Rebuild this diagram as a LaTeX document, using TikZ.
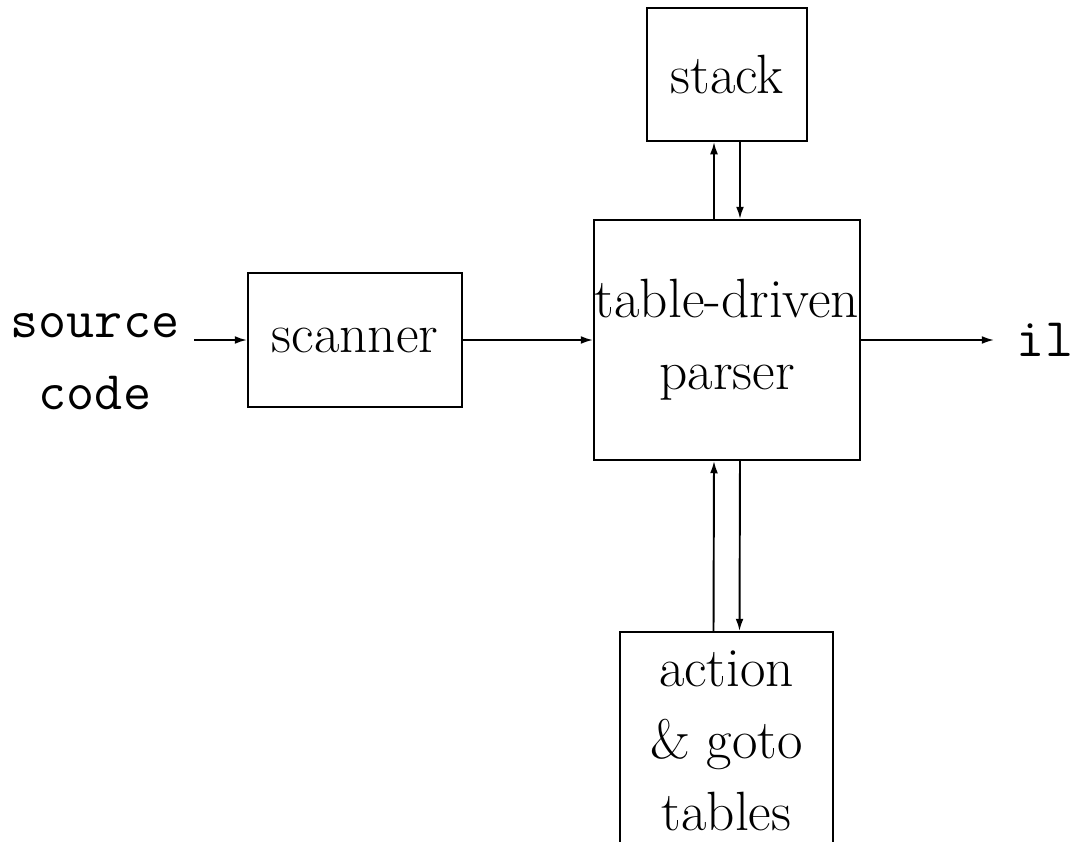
\documentclass[tikz,border=0pt]{standalone}
\usepackage{tikz}
\usetikzlibrary{arrows.meta}

\tikzset{
    block/.style={draw, line width=1.1pt, align=center, inner sep=0pt},
    flow/.style={->, line width=1.1pt}
}

\begin{document}
\begin{tikzpicture}[x=0.02cm, y=-0.02cm, >={Latex[length=7pt,width=4.5pt]},
    every node/.style={font=\fontsize{31.5}{41}\selectfont}]
    \useasboundingbox (0,0) rectangle (1076,842);
    \node[block, minimum width=3.2cm, minimum height=2.66cm] (stack) at (727,74.5) {stack};
    \node[block, minimum width=5.32cm, minimum height=4.8cm] (parser) at (727,340) {table-driven\\parser};
    \node[block, minimum width=4.28cm, minimum height=2.68cm] (scanner) at (355,340) {scanner};
    \node[block, minimum width=4.26cm, minimum height=4.36cm] (tables) at (726.5,741) {action\\\& goto\\tables};
    \node[align=center, inner sep=0.3cm, font=\fontsize{31}{41}\selectfont\ttfamily] (src) at (95,362) {source\\code};
    \node[inner sep=0.45cm, font=\fontsize{31}{41}\selectfont\ttfamily] (il) at (1045,340) {il};
    \draw[flow] (src.east |- scanner) -- (scanner);
    \draw[flow] (scanner) -- (parser);
    \draw[flow] (parser) -- (il);
    \draw[flow] ([xshift=-0.26cm]parser.north) -- ([xshift=-0.26cm]stack.south);
    \draw[flow] ([xshift=0.26cm]stack.south) -- ([xshift=0.26cm]parser.north);
    \draw[flow] ([xshift=-0.26cm]tables.north) -- ([xshift=-0.26cm]parser.south);
    \draw[flow] ([xshift=0.26cm]parser.south) -- ([xshift=0.26cm]tables.north);
\end{tikzpicture}
\end{document}
